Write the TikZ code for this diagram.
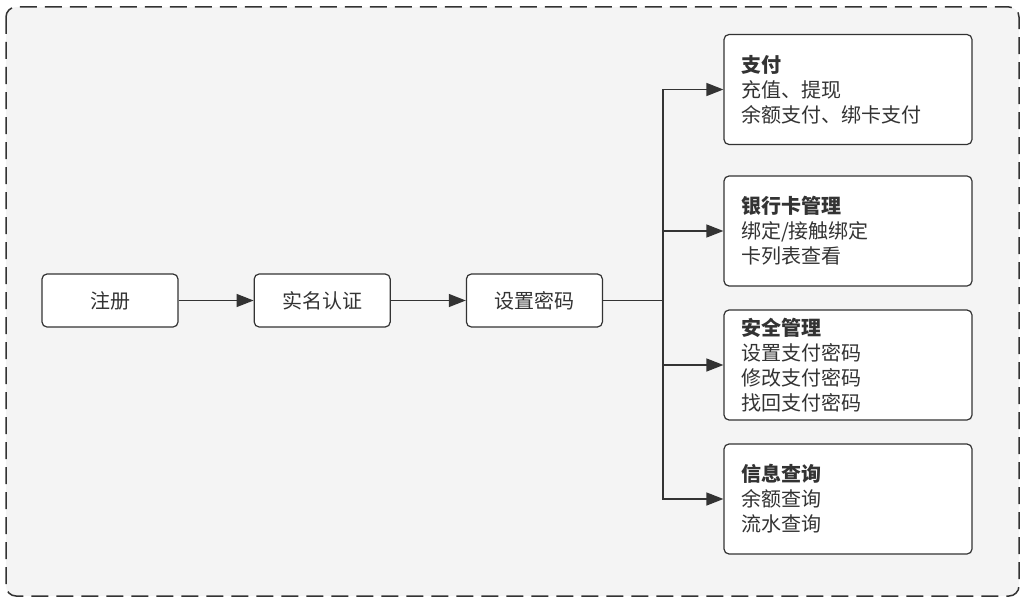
\documentclass[tikz,border=0pt]{standalone}
\usepackage{fontspec}
\setmainfont{Noto Sans CJK SC}
\usepackage{xcolor}
\usepackage{tikz}
\usetikzlibrary{arrows.meta,positioning}
\definecolor{canvas}{HTML}{F4F4F4}
\definecolor{ink}{HTML}{333333}

\begin{document}
\begin{tikzpicture}[x=1pt, y=-1pt, node distance=75pt, every node/.style={font=\fontsize{20}{25}\selectfont, text=ink}, box/.style={draw=ink, line width=1.2pt, rounded corners=5pt, fill=white, minimum width=136pt, minimum height=53pt, align=center}, menu/.style={box, text width=214pt, inner xsep=17pt, minimum height=110pt, align=left}, arrow/.style={-{Triangle[length=17pt,width=13pt]}, draw=ink, line width=1.3pt}]
\useasboundingbox (0,0) rectangle (1025,602);
\draw[ink, line width=1.5pt, dash pattern=on 17pt off 8pt, rounded corners=10pt, fill=canvas] (6,7) rectangle (1019,596);
\node[box] (reg) at (110,300.5) {注册};
\node[box,right=of reg] (auth) {实名认证};
\node[box,right=of auth] (pwd) {设置密码};
\node[menu] (pay) at (848,89.5) {\textbf{支付}\\充值、提现\\余额支付、绑卡支付};
\node[menu] (card) at (848,231) {\textbf{银行卡管理}\\绑定/接触绑定\\卡列表查看};
\node[menu] (safe) at (848,365) {\textbf{安全管理}\\设置支付密码\\修改支付密码\\找回支付密码};
\node[menu] (info) at (848,499) {\textbf{信息查询}\\余额查询\\流水查询};
\coordinate (fork) at (663,300.5);
\draw[arrow] (reg)--(auth);
\draw[arrow] (auth)--(pwd);
\draw[ink, line width=1.3pt] (pwd)--(fork);
\draw[arrow] (fork)|-(pay);
\draw[arrow] (fork)|-(card);
\draw[arrow] (fork)|-(safe);
\draw[arrow] (fork)|-(info);
\end{tikzpicture}
\end{document}
